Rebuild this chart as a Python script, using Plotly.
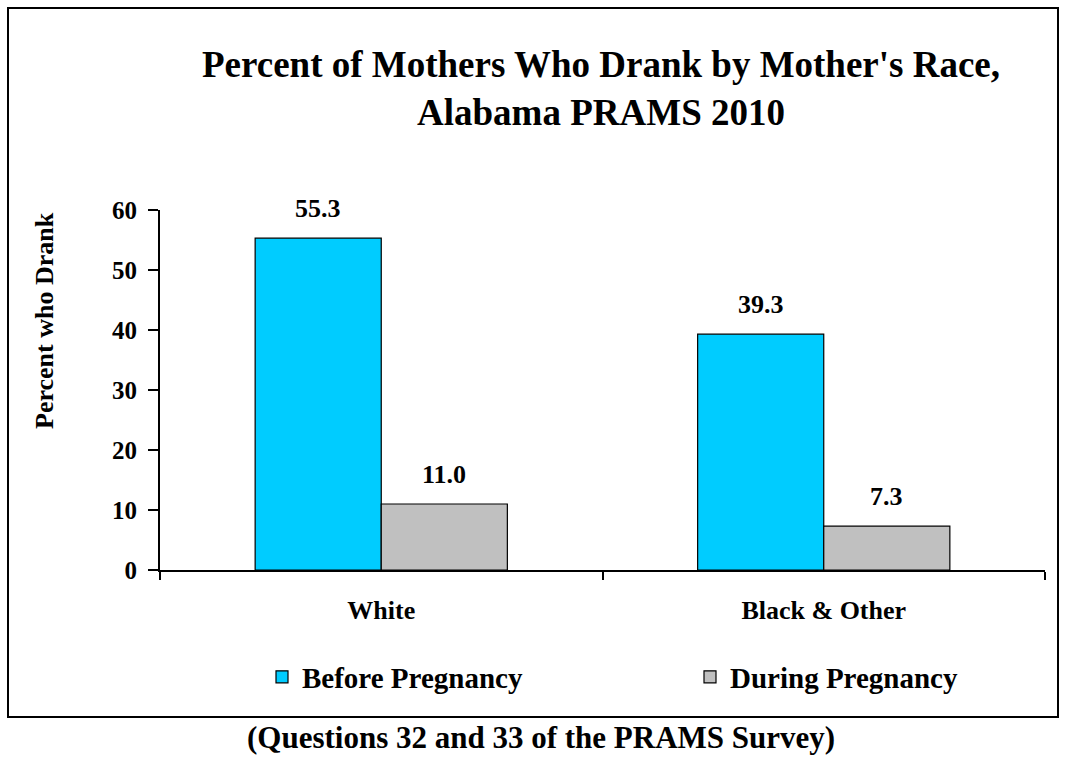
import plotly.graph_objects as go

categories = ["White", "Black & Other"]
before_pregnancy = [55.3, 39.3]
during_pregnancy = [11.0, 7.3]
y_ticks = [0, 10, 20, 30, 40, 50, 60]

FONT = "Liberation Serif"
W, H = 1066, 757
L, R, T, B = 160, 21, 210, 187
pw, ph = W - L - R, H - T - B

def px_x(x):
    return (x - L) / pw

def px_y(y):
    return (H - B - y) / ph

series = [
    ("Before Pregnancy", before_pregnancy, "#00CCFF", "legend", -63),
    ("During Pregnancy", during_pregnancy, "#C0C0C0", "legend2", 63),
]

fig = go.Figure()
for name, vals, color, leg, shift in series:
    fig.add_trace(go.Bar(
        x=categories, y=vals, name=name, legend=leg,
        marker=dict(color=color, line=dict(color="black", width=1.2)),
    ))
    for c, v in zip(categories, vals):
        fig.add_annotation(
            x=c, y=v, xref="x", yref="y", xshift=shift, yshift=13,
            text=f"{v:.1f}", showarrow=False, xanchor="center", yanchor="bottom",
            font=dict(family=FONT, size=26, color="black", weight="bold"),
        )

legend_common = dict(
    orientation="h", xanchor="left", yanchor="middle",
    font=dict(family=FONT, size=29, color="black", weight="bold"),
    bgcolor="rgba(0,0,0,0)",
)

fig.update_layout(
    width=W, height=H,
    margin=dict(l=L, r=R, t=T, b=B),
    paper_bgcolor="white", plot_bgcolor="white",
    barmode="group", bargap=0.43, bargroupgap=0,
    font=dict(family=FONT, color="black"),
    title=dict(
        text="Percent of Mothers Who Drank by Mother's Race,<br>Alabama PRAMS 2010",
        x=px_x(601), xref="paper", xanchor="center",
        y=1 - 77 / H, yref="container", yanchor="middle",
        font=dict(family=FONT, size=37, color="black", weight="bold"),
    ),
    showlegend=True,
    legend=dict(x=px_x(262), y=px_y(677), **legend_common),
    legend2=dict(x=px_x(690), y=px_y(677), **legend_common),
    xaxis=dict(
        showline=True, linecolor="black", linewidth=2,
        ticks="outside", ticklen=8, tickcolor="black", tickwidth=1.5,
        tickson="boundaries",
        tickfont=dict(family=FONT, size=26, color="black", weight="bold"),
        ticklabelstandoff=16,
        showgrid=False,
    ),
    yaxis=dict(
        range=[0, 60], tickvals=y_ticks,
        showline=True, linecolor="black", linewidth=2,
        ticks="outside", ticklen=10, tickcolor="black", tickwidth=1.5,
        tickfont=dict(family=FONT, size=25, color="black", weight="bold"),
        ticklabelstandoff=6,
        showgrid=False, zeroline=False,
    ),
)

# y-axis title (placed as in the reference, above the axis middle)
fig.add_annotation(
    text="Percent who Drank", xref="paper", yref="paper",
    x=px_x(44), y=px_y(321), textangle=-90, showarrow=False,
    xanchor="center", yanchor="middle",
    font=dict(family=FONT, size=26, color="black", weight="bold"),
)

fig.add_shape(type="rect", xref="paper", yref="paper",
              x0=px_x(8), x1=px_x(1058), y0=px_y(717), y1=px_y(8),
              line=dict(color="black", width=2), fillcolor="rgba(0,0,0,0)", layer="below")

fig.add_annotation(
    text="(Questions 32 and 33 of the PRAMS Survey)",
    xref="paper", yref="paper", x=px_x(541), y=px_y(737),
    xanchor="center", yanchor="middle", showarrow=False,
    font=dict(family=FONT, size=31, color="black", weight="bold"),
)

fig.write_html(
    "out.html",
    config={"displayModeBar": False},
    post_script="document.body.style.margin='0';document.body.style.overflow='hidden';",
)
